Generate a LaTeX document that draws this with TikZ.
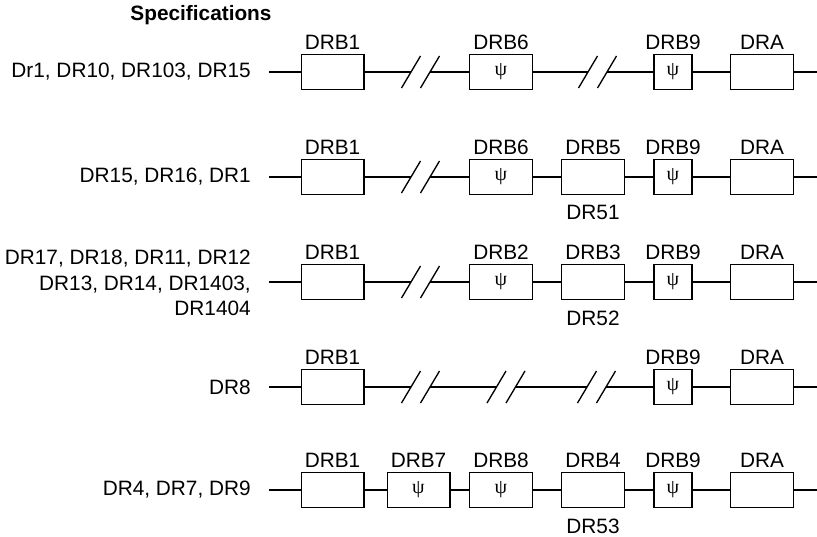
\documentclass[tikz,border=0pt]{standalone}
\usepackage{fontspec}
\setmainfont{Liberation Sans}
\newfontfamily\grkfont{Liberation Serif}
\begin{document}
\begin{tikzpicture}[x=0.75pt, y=-0.75pt]
      \fontsize{15.6}{19}\selectfont
      \tikzstyle{gene}=[draw, line width=1pt, minimum width=47pt, minimum height=26.5pt, inner sep=0pt]
      \tikzstyle{short}=[gene, minimum width=28.5pt]
      \tikzstyle{psi}=[font=\fontsize{15}{16}\grkfont]
      \tikzstyle{lbl}=[inner sep=3pt, font=\fontsize{15.6}{19}\selectfont]
      \tikzstyle{sub}=[lbl, inner sep=7.5pt]
      \tikzstyle{chain}=[line width=1.5pt]
      \tikzstyle{slash}=[line width=1pt]
      \tikzstyle{spec}=[anchor=east, align=right, inner sep=0pt]
      \useasboundingbox (0,0) rectangle (817,536);

      \node[font=\fontsize{15.6}{19}\selectfont\bfseries] (title) at (201,15) {Specifications};

      % Dr1, DR10, DR103, DR15
      \node[spec] (r1name) at (251,72) {Dr1, DR10, DR103, DR15};
      \coordinate (r1s) at (269,72);
      \node[gene, label={[lbl]above:DRB1}] (r1drb1) at (332.5,72) {};
      \coordinate (r1k1) at (411,72);
      \coordinate (r1k2) at (430,72);
      \node[gene, psi, label={[lbl]above:DRB6}] (r1drb6) at (501,72) {ψ};
      \coordinate (r1k3) at (588,72);
      \coordinate (r1k4) at (607,72);
      \node[short, psi, label={[lbl]above:DRB9}] (r1drb9) at (673,72) {ψ};
      \node[gene, label={[lbl]above:DRA}] (r1dra) at (762,72) {};
      \coordinate (r1e) at (817,72);
      \draw[chain] (r1s) -- (r1drb1) -- (r1k1) (r1k2) -- (r1drb6) -- (r1k3)
                   (r1k4) -- (r1drb9) -- (r1dra) -- (r1e);

      % DR15, DR16, DR1
      \node[spec] (r2name) at (251,177) {DR15, DR16, DR1};
      \coordinate (r2s) at (269,177);
      \node[gene, label={[lbl]above:DRB1}] (r2drb1) at (332.5,177) {};
      \coordinate (r2k1) at (411,177);
      \coordinate (r2k2) at (430,177);
      \node[gene, psi, label={[lbl]above:DRB6}] (r2drb6) at (501,177) {ψ};
      \node[gene, label={[lbl]above:DRB5}, label={[sub]below:DR51}] (r2drb5) at (593,177) {};
      \node[short, psi, label={[lbl]above:DRB9}] (r2drb9) at (673,177) {ψ};
      \node[gene, label={[lbl]above:DRA}] (r2dra) at (762,177) {};
      \coordinate (r2e) at (817,177);
      \draw[chain] (r2s) -- (r2drb1) -- (r2k1) (r2k2) -- (r2drb6) -- (r2drb5)
                   -- (r2drb9) -- (r2dra) -- (r2e);

      % DR17 ... DR1404
      \node[spec] (r3name) at (251,283) {DR17, DR18, DR11, DR12\\DR13, DR14, DR1403,\\DR1404};
      \coordinate (r3s) at (269,282);
      \node[gene, label={[lbl]above:DRB1}] (r3drb1) at (332.5,282) {};
      \coordinate (r3k1) at (411,282);
      \coordinate (r3k2) at (430,282);
      \node[gene, psi, label={[lbl]above:DRB2}] (r3drb2) at (501,282) {ψ};
      \node[gene, label={[lbl]above:DRB3}, label={[sub]below:DR52}] (r3drb3) at (593,282) {};
      \node[short, psi, label={[lbl]above:DRB9}] (r3drb9) at (673,282) {ψ};
      \node[gene, label={[lbl]above:DRA}] (r3dra) at (762,282) {};
      \coordinate (r3e) at (817,282);
      \draw[chain] (r3s) -- (r3drb1) -- (r3k1) (r3k2) -- (r3drb2) -- (r3drb3)
                   -- (r3drb9) -- (r3dra) -- (r3e);

      % DR8
      \node[spec] (r4name) at (251,387) {DR8};
      \coordinate (r4s) at (269,387);
      \node[gene, label={[lbl]above:DRB1}] (r4drb1) at (332.5,387) {};
      \coordinate (r4k1) at (411,387);
      \coordinate (r4k2) at (430,387);
      \coordinate (r4k3) at (496.5,387);
      \coordinate (r4k4) at (515.5,387);
      \coordinate (r4k5) at (587,387);
      \coordinate (r4k6) at (606,387);
      \node[short, psi, label={[lbl]above:DRB9}] (r4drb9) at (673,387) {ψ};
      \node[gene, label={[lbl]above:DRA}] (r4dra) at (762,387) {};
      \coordinate (r4e) at (817,387);
      \draw[chain] (r4s) -- (r4drb1) -- (r4k1) (r4k2) -- (r4k3) (r4k4) -- (r4k5)
                   (r4k6) -- (r4drb9) -- (r4dra) -- (r4e);

      % DR4, DR7, DR9
      \node[spec] (r5name) at (251,490) {DR4, DR7, DR9};
      \coordinate (r5s) at (269,490);
      \node[gene, label={[lbl]above:DRB1}] (r5drb1) at (332.5,490) {};
      \node[gene, psi, label={[lbl]above:DRB7}] (r5drb7) at (418.5,490) {ψ};
      \node[gene, psi, label={[lbl]above:DRB8}] (r5drb8) at (501,490) {ψ};
      \node[gene, label={[lbl]above:DRB4}, label={[sub]below:DR53}] (r5drb4) at (593,490) {};
      \node[short, psi, label={[lbl]above:DRB9}] (r5drb9) at (673,490) {ψ};
      \node[gene, label={[lbl]above:DRA}] (r5dra) at (762,490) {};
      \coordinate (r5e) at (817,490);
      \draw[chain] (r5s) -- (r5drb1) -- (r5drb7) -- (r5drb8) -- (r5drb4)
                   -- (r5drb9) -- (r5dra) -- (r5e);

      % break marks
      \foreach \k in {r1k1,r1k2,r1k3,r1k4,r2k1,r2k2,r3k1,r3k2,r4k1,r4k2,r4k3,r4k4,r4k5,r4k6}
        \draw[slash] (\k) ++(-9.5,16) -- ++(19,-32);
\end{tikzpicture}
\end{document}
